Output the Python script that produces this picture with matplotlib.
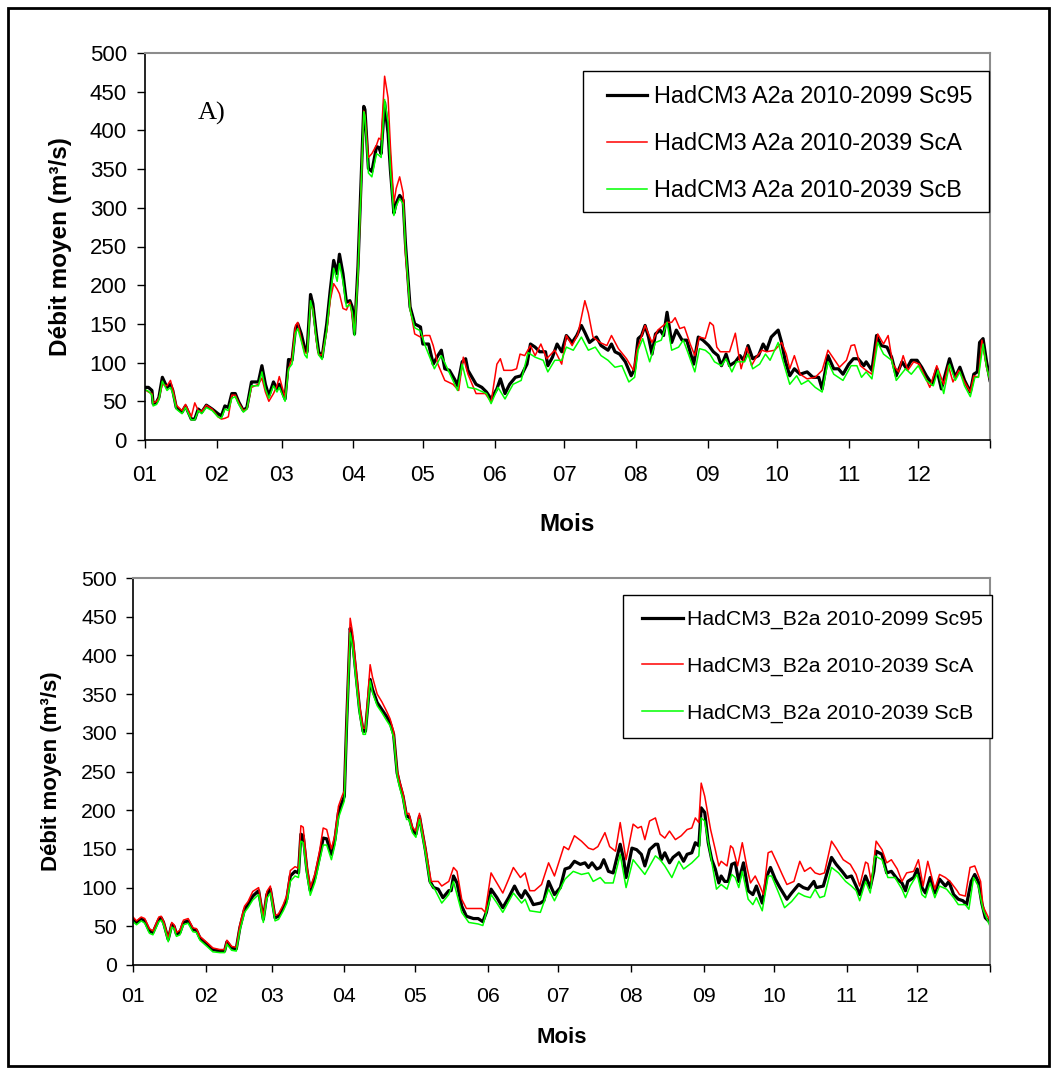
import matplotlib.pyplot as plt
from matplotlib.patches import Rectangle

plt.rcParams['font.family'] = ['Liberation Sans', 'DejaVu Sans']

# Axe des mois (jour de l'année du début de chaque mois)
mois = ['01', '02', '03', '04', '05', '06', '07', '08', '09', '10', '11', '12']
debut_mois = [0, 31, 59, 90, 120, 151, 181, 212, 243, 273, 304, 334, 365]

# ---- Graphique A) : HadCM3 A2a ----
jours_a2a_crue = [0, 1.5, 3, 3.5, 5, 6, 7.5, 9.5, 11, 12, 13.5, 16, 17.5, 20, 21.5, 23, 24.5, 26.5, 29, 31.5,
                  33, 34.5, 36, 37.5, 39, 40.5, 42.5, 44, 46, 49, 50.5, 52, 53.5, 55.5, 57, 58, 60.5, 62, 63.5, 65,
                  66, 67.5, 69, 70, 71.5, 72.5, 74, 75, 76.5, 78.5, 80, 81.5, 83, 84, 85.5, 87, 88.5, 89.5, 90.5, 92,
                  94.5, 95, 96.5, 98, 100, 101, 102, 103.5, 105, 106, 107.5, 108.5, 110, 111.5, 112.5, 114.5, 116.5, 119]

jours_a2a_sc95 = jours_a2a_crue + [
    120, 122.5, 124.5, 126.5, 128, 129.5, 131.5, 134, 135, 137, 138.5, 139.5, 142, 143, 145.5, 147.5, 149.5, 152,
    153.5, 155.5, 157.5, 160, 162.5, 165, 166.5, 168.5, 170.5, 173, 174, 176, 178, 180, 182, 184.5, 186.5, 188.5,
    190, 192, 195, 197, 200, 201.5, 203, 205, 207.5, 210, 211.5, 213, 214.5, 216, 217.5, 219, 220.5, 222.5, 224,
    225.5, 227.5, 229.5, 232, 234, 237, 239,
    241, 243.5, 245.5, 247.5, 249, 251, 252.5, 255, 257, 258.5, 260.5, 262.5, 265, 267, 268.5, 270.5, 273.5, 275,
    276.5, 278.5, 280.5, 283, 286, 288.5, 291, 292.5, 295, 297.5, 299.5, 301.5, 304, 306, 308, 310.5, 311.5, 314,
    316, 318, 320.5, 322.5, 324.5, 327, 329, 331, 333.5, 335.5, 337.5, 340, 342, 344, 346, 347.5, 350, 352, 354,
    356.5, 358, 359.5, 360.5, 362, 363.5, 365]
debit_a2a_sc95 = [
    68, 68, 64, 47, 49, 55, 81, 68, 72, 64, 42, 36, 44, 27, 27, 40, 36, 45, 40, 34,
    31, 44, 42, 60, 60, 49, 38, 42, 75, 75, 96, 72, 57, 75, 66, 72, 53, 104, 103, 144,
    150, 137, 118, 114, 188, 176, 137, 114, 107, 150, 193, 232, 215, 240, 215, 178, 180, 172, 137, 224,
    431, 427, 351, 347, 379, 378, 370, 436, 396, 349, 293, 306, 316, 310, 254, 172, 150, 146,
    124, 124, 98, 109, 116, 92, 90, 77, 70, 101, 105, 90, 77, 72, 68, 62, 53, 66, 79, 60,
    72, 81, 83, 98, 124, 120, 114, 114, 96, 107, 124, 114, 135, 126, 135, 148, 139, 126, 133, 122,
    116, 124, 114, 111, 101, 83, 92, 131, 135, 148, 133, 111, 137, 142, 135, 165, 126, 142, 129, 129,
    98, 133,
    129, 122, 114, 109, 96, 111, 96, 101, 109, 103, 122, 105, 109, 124, 116, 133, 142, 126, 103, 83,
    92, 85, 88, 81, 81, 66, 109, 92, 92, 85, 98, 105, 105, 96, 101, 90, 135, 122, 120, 107,
    83, 101, 92, 103, 103, 94, 83, 72, 92, 66, 88, 105, 81, 94, 77, 62, 85, 88, 126, 131,
    101, 77]

jours_a2a_sca = jours_a2a_crue + [
    121, 123, 124.5, 126.5, 129.5, 133, 135.5, 137.5, 139.5, 143, 147, 149.5, 152, 153.5, 155, 158.5, 160.5, 162,
    164, 166.5, 168.5, 171, 173.5, 177, 180, 182, 184.5, 187, 190, 191.5, 193.5, 196.5, 199.5, 201.5, 204.5, 208,
    211, 212.5, 216, 219, 221.5, 225.5, 227.5, 229, 231, 233, 235.5, 237.5, 239.5,
    242, 244, 245.5, 247, 248.5, 250.5, 252.5, 255, 256.5, 257.5, 260, 262, 264, 266.5, 268.5, 272, 275, 277,
    278.5, 280.5, 283, 286, 289.5, 292.5, 295, 297.5, 300, 303, 305, 306.5, 309, 311.5, 314, 316.5, 319, 321,
    323, 325.5, 327.5, 329.5, 332, 334.5, 339, 342, 345, 347, 349, 351.5, 354, 356.5, 358, 360, 361.5, 363.5, 365]
debit_a2a_sca = [
    65, 62, 60, 48, 50, 54, 72, 70, 77, 66, 45, 38, 46, 30, 48, 38, 37, 45, 40, 30,
    27, 28, 30, 58, 58, 48, 38, 40, 68, 72, 80, 62, 50, 60, 70, 82, 55, 92, 105, 148,
    152, 130, 113, 112, 176, 170, 128, 110, 110, 140, 180, 202, 195, 189, 170, 168, 178, 160, 140, 215,
    425, 420, 365, 370, 381, 390, 388, 470, 442, 380, 306, 325, 340, 319, 241, 170, 137, 133,
    135, 135, 122, 98, 77, 72, 64, 107, 85, 60, 60, 49, 98, 105, 90, 90, 92, 111, 109, 122,
    109, 124, 105, 116, 98, 135, 122, 137, 180, 164, 133, 126, 122, 135, 118, 105, 90, 116, 148, 126,
    142, 152, 152, 158, 144, 146, 124, 109, 133,
    131, 152, 148, 120, 114, 114, 114, 138, 109, 92, 120, 96, 107, 116, 114, 116, 126, 111, 92, 109,
    85, 79, 81, 90, 116, 105, 94, 103, 122, 123, 96, 90, 85, 137, 124, 135, 98, 88, 109, 90,
    101, 98, 68, 96, 72, 96, 75, 90, 75, 62, 83, 81, 129, 94, 77]

jours_a2a_scb = jours_a2a_crue + [
    121, 125, 128, 131, 135, 137, 139.5, 143, 147.5, 149.5, 152.5, 155.5, 159, 162.5, 165.5, 168.5, 172, 174, 177,
    180, 182, 185, 188.5, 191.5, 194.5, 197, 200, 203, 206, 209, 211.5, 213, 215, 218, 220.5, 223, 225.5, 227.5,
    230.5, 232.5, 234.5, 237.5, 239.5,
    242, 244, 246, 249, 251, 253.5, 255.5, 259, 260.5, 262.5, 265.5, 268, 270, 273.5, 275.5, 278.5, 281.5, 283.5,
    286.5, 289.5, 292.5, 295, 297.5, 301.5, 305, 307.5, 309.5, 311.5, 314, 316.5, 319, 322.5, 324.5, 328.5, 331,
    334, 337.5, 340.5, 342.5, 345, 347.5, 350, 352, 354, 356.5, 358.5, 360, 362, 363.5, 365]
debit_a2a_scb = [
    65, 63, 58, 44, 46, 52, 76, 64, 68, 60, 40, 34, 42, 26, 26, 38, 34, 42, 38, 30,
    28, 40, 38, 54, 56, 46, 36, 40, 70, 70, 88, 66, 54, 70, 62, 68, 50, 92, 98, 138,
    144, 128, 110, 106, 180, 168, 130, 110, 104, 142, 185, 222, 205, 228, 205, 172, 175, 165, 135, 215,
    424, 418, 345, 340, 370, 368, 365, 440, 410, 350, 290, 302, 312, 305, 250, 168, 145, 141,
    122, 92, 109, 90, 64, 98, 68, 66, 60, 47, 68, 53, 72, 77, 113, 107, 103, 88, 103, 103,
    120, 116, 133, 116, 120, 109, 103, 94, 96, 75, 81, 116, 131, 101, 126, 129, 152, 116, 120, 129,
    113, 88, 118,
    116, 111, 101, 96, 105, 88, 101, 101, 111, 92, 98, 111, 103, 126, 103, 72, 83, 72, 77, 68,
    62, 101, 85, 77, 96, 96, 81, 88, 79, 126, 111, 103, 77, 92, 85, 96, 77, 70, 90, 60,
    98, 77, 88, 70, 56, 81, 81, 124, 94, 77]

# ---- Graphique B) : HadCM3_B2a ----
jours_b2a_crue = [0, 1.5, 3.5, 5, 7, 8.5, 11, 12, 13, 15, 16.5, 17.5, 18.5, 20, 21.5, 23.5, 25.5, 27, 28.5, 31.5,
                  34, 37, 39, 40, 42, 44, 45.5, 47.5, 49, 51, 53.5, 55.5, 57, 58.5, 60.5, 62, 64, 65.5, 67, 69,
                  70.5, 71.5, 72.5, 74, 75.5, 77.5, 79.5, 81, 82.5, 84.5, 86, 87.5, 89, 90, 91, 92.5, 93.5, 95.5, 96.5, 98,
                  99, 101, 102, 104, 106, 108, 109.5, 111, 112.5, 113.5, 115, 116.5, 117.5, 119, 120.5, 122]

jours_b2a_sc95 = jours_b2a_crue + [
    124.5, 126.5, 128, 130, 132, 134.5, 135.5, 136.5, 138, 140, 142, 145, 147, 149, 150.5, 152.5, 155, 157.5, 160,
    162.5, 164, 165.5, 167, 169, 170.5, 173.5, 175, 177, 179.5, 182, 184, 186, 188, 190.5, 192.5, 194, 195.5,
    197.5, 199, 200.5, 202.5, 204.5, 207.5, 209, 210, 212.5, 214.5, 216.5, 218, 220, 222.5, 223.5, 225, 226.5,
    228.5, 230, 232.5, 234.5, 236, 238, 239.5, 241, 242,
    243.5, 245, 246.5, 248, 249.5, 250.5, 252, 253.5, 255, 256.5, 258, 260, 262, 264, 265.5, 268, 270, 271.5,
    273.5, 275.5, 278.5, 280.5, 283.5, 285.5, 287.5, 290, 291, 294, 297.5, 299.5, 302, 304, 306, 308, 309.5, 312,
    314, 315.5, 316.5, 319, 321, 323, 325.5, 327.5, 329, 330, 332.5, 334, 336, 337.5, 339.5, 341.5, 343.5, 346,
    347.5, 349.5, 351.5, 353.5, 355, 357, 358.5, 360, 361.5, 363, 365]
debit_b2a_sc95 = [
    59, 55, 60, 57, 44, 42, 59, 61, 55, 33, 52, 50, 40, 42, 55, 57, 46, 45, 35, 27,
    20, 18, 18, 30, 22, 21, 48, 72, 78, 89, 96, 59, 91, 98, 61, 63, 74, 85, 115, 121,
    119, 169, 167, 124, 96, 113, 141, 164, 163, 143, 162, 197, 210, 218, 313, 435, 420, 360, 330, 302,
    302, 369, 356, 339, 330, 321, 313, 298, 248, 235, 218, 192, 192, 175, 169, 192,
    149, 108, 100, 98, 87, 96, 96, 115, 106, 76, 63, 60, 60, 56, 68, 98, 87, 74, 87, 102,
    93, 87, 96, 87, 78, 80, 83, 108, 91, 100, 124, 126, 134, 130, 132, 126, 132, 124, 126, 136,
    121, 119, 156, 136, 113, 151, 149, 143, 128, 149, 156, 156, 136, 145, 132, 139, 145, 134, 143, 145,
    158, 154, 203,
    197, 158, 136, 124, 106, 115, 108, 108, 130, 132, 108, 132, 96, 91, 102, 80, 115, 126, 111, 100,
    85, 93, 104, 100, 98, 108, 100, 102, 139, 130, 121, 113, 115, 102, 91, 115, 100, 121, 147, 143,
    119, 121, 111, 106, 96, 108, 113, 124, 100, 93, 113, 93, 111, 102, 108, 91, 85, 83, 78, 108,
    117, 108, 80, 61, 55]

jours_b2a_sca = jours_b2a_crue + [
    124.5, 127, 130, 131.5, 134.5, 136.5, 138, 140, 142, 148.5, 150, 152.5, 154, 157.5, 160, 162, 165, 167, 169,
    171, 174, 177, 179.5, 183.5, 185.5, 188, 191, 194, 196, 198, 201, 203, 205.5, 207.5, 210, 213, 215, 216.5,
    218, 220, 222.5, 224.5, 226.5, 228.5, 231, 233.5, 236, 238, 239.5, 241, 242,
    243.5, 246, 248, 249.5, 250.5, 253, 254.5, 255.5, 257.5, 259.5, 261.5, 263, 265, 267, 268.5, 270.5, 272, 274,
    276.5, 278.5, 281.5, 284, 286, 288.5, 290.5, 292.5, 294.5, 297.5, 299.5, 302.5, 305.5, 308, 309.5, 312, 313,
    314.5, 316.5, 319, 321, 323, 325.5, 327.5, 329.5, 332.5, 334.5, 336.5, 338.5, 341.5, 343.5, 346, 348, 351,
    352, 354.5, 356.5, 358.5, 361, 362, 365]
debit_b2a_sca = [
    62, 57, 62, 60, 47, 44, 62, 63, 57, 35, 55, 52, 42, 45, 58, 60, 48, 47, 37, 29,
    22, 20, 20, 32, 24, 23, 52, 76, 82, 95, 100, 62, 95, 102, 64, 66, 78, 90, 122, 127,
    125, 180, 178, 130, 100, 118, 148, 177, 175, 150, 168, 205, 218, 225, 320, 448, 430, 368, 336, 306,
    306, 388, 372, 350, 340, 328, 318, 302, 252, 238, 222, 195, 196, 178, 173, 196,
    153, 108, 108, 102, 108, 126, 121, 85, 73, 73, 68, 119, 111, 93, 111, 126, 113, 119, 96, 96,
    104, 132, 115, 153, 149, 167, 160, 151, 149, 153, 171, 153, 147, 184, 136, 182, 177, 179, 162, 186,
    190, 169, 164, 173, 162, 167, 175, 177, 190, 184, 235,
    218, 175, 149, 128, 134, 128, 154, 151, 128, 158, 126, 106, 115, 102, 91, 145, 147, 134, 117, 104,
    108, 134, 121, 126, 119, 117, 119, 160, 151, 136, 130, 117, 102, 133, 131, 106, 160, 149, 132, 136,
    124, 108, 119, 121, 136, 102, 134, 98, 117, 113, 108, 96, 91, 89, 126, 128, 108, 76, 57]

jours_b2a_scb = jours_b2a_crue + [
    124.5, 126.5, 128.5, 131.5, 134.5, 136.5, 140, 143, 147, 149, 152.5, 155, 157.5, 162, 165.5, 167, 169, 173.5,
    177, 179.5, 184, 187.5, 191, 194, 196, 199, 201, 204.5, 207.5, 210, 213, 218, 222.5, 224.5, 226.5, 229.5,
    232.5, 234.5, 238, 241, 242,
    243.5, 244.5, 246.5, 248.5, 250.5, 253, 255, 256.5, 258, 259.5, 262, 264, 265.5, 268, 270.5, 272, 275, 277.5,
    280.5, 283.5, 286, 288.5, 290.5, 292.5, 294.5, 297.5, 300.5, 303.5, 306, 308, 309.5, 312, 314, 316, 319,
    321.5, 324.5, 327.5, 329, 331, 334, 336, 337.5, 339.5, 341.5, 343.5, 346.5, 349.5, 351.5, 354.5, 356, 358,
    360, 362, 365]
debit_b2a_scb = [
    56, 52, 57, 54, 41, 39, 56, 58, 52, 30, 49, 47, 37, 39, 52, 54, 43, 42, 32, 24,
    17, 16, 16, 27, 19, 18, 44, 68, 74, 84, 91, 55, 86, 93, 57, 59, 70, 80, 108, 115,
    113, 160, 158, 118, 90, 107, 135, 155, 155, 136, 155, 190, 203, 212, 305, 429, 412, 352, 324, 298,
    298, 367, 352, 335, 326, 316, 309, 294, 244, 230, 214, 188, 188, 171, 165, 188,
    145, 106, 98, 80, 91, 108, 68, 55, 53, 51, 91, 80, 68, 93, 80, 85, 70, 68, 98, 83,
    111, 121, 117, 119, 108, 113, 106, 106, 143, 100, 136, 117, 141, 136, 128, 113, 134, 124, 132, 141,
    190,
    186, 167, 133, 98, 104, 98, 117, 113, 100, 121, 85, 78, 87, 70, 115, 115, 93, 74, 82, 93,
    89, 87, 98, 87, 89, 126, 119, 108, 102, 96, 83, 108, 93, 141, 136, 113, 113, 98, 87, 102,
    117, 91, 87, 106, 87, 102, 98, 87, 78, 78, 72, 113, 102, 72, 50]

noms_a2a = ['HadCM3 A2a 2010-2099 Sc95', 'HadCM3 A2a 2010-2039 ScA', 'HadCM3 A2a 2010-2039 ScB']
noms_b2a = ['HadCM3_B2a 2010-2099 Sc95', 'HadCM3_B2a 2010-2039 ScA', 'HadCM3_B2a 2010-2039 ScB']
couleurs = ['#000000', '#ff0000', '#00ff00']
epaisseurs = [2.3, 1.1, 1.1]

W, H = 1057, 1074
fig = plt.figure(figsize=(W / 100, H / 100), dpi=100)


def panneau(rect_px, series, noms, taille, taille_titre, leg_px, boite_px, tick_len, pads, lab_xy):
    x0, y0, x1, y1 = rect_px
    ax = fig.add_axes([x0 / W, 1 - y1 / H, (x1 - x0) / W, (y1 - y0) / H])
    lignes = []
    for (j, d), nom, c, lw in zip(series, noms, couleurs, epaisseurs):
        l, = ax.plot(j, d, color=c, lw=lw, label=nom, zorder=2)
        lignes.append(l)
    ax.set_xlim(0, 365)
    ax.set_ylim(0, 500)
    ax.set_yticks(range(0, 501, 50))
    ax.set_xticks(debut_mois)
    ax.set_xticklabels(mois + [''])
    ax.tick_params(axis='both', direction='out', length=tick_len, width=1, labelsize=taille, colors='black')
    ax.tick_params(axis='y', pad=pads[0])
    ax.tick_params(axis='x', pad=pads[1])
    for s in ['top', 'right']:
        ax.spines[s].set_color('#8c8c8c')
        ax.spines[s].set_linewidth(1.5)
    for s in ['left', 'bottom']:
        ax.spines[s].set_color('black')
        ax.spines[s].set_linewidth(1.2)
    ax.set_xlabel('Mois', fontsize=taille_titre, fontweight='bold')
    ax.set_ylabel('Débit moyen (m³/s)', fontsize=taille_titre, fontweight='bold')
    ax.xaxis.set_label_coords(0.5, lab_xy[1])
    ax.yaxis.set_label_coords(lab_xy[0], 0.5)

    # cadre de la légende
    bx0, by0, bx1, by1 = boite_px
    ax.add_patch(Rectangle(((bx0 - x0) / (x1 - x0), (y1 - by1) / (y1 - y0)),
                           (bx1 - bx0) / (x1 - x0), (by1 - by0) / (y1 - y0),
                           transform=ax.transAxes, facecolor='white', edgecolor='black',
                           lw=1.0, zorder=4, clip_on=False))
    lx, ly, fs, hl, htp, lsp = leg_px
    leg = ax.legend(handles=lignes, loc='upper left',
                    bbox_to_anchor=((lx - x0) / (x1 - x0), (y1 - ly) / (y1 - y0)),
                    frameon=False, fontsize=fs, handlelength=hl, handletextpad=htp,
                    labelspacing=lsp, borderpad=0, borderaxespad=0)
    leg.set_zorder(5)
    return ax


ax1 = panneau((145, 53, 990, 440),
              [(jours_a2a_sc95, debit_a2a_sc95), (jours_a2a_sca, debit_a2a_sca), (jours_a2a_scb, debit_a2a_scb)],
              noms_a2a, 16, 17.5, (607, 85, 16.9, 1.72, 0.3, 1.02), (583, 71, 989, 212), 6, (7, 12),
              (-0.086, -0.189))
ax1.text((198 - 145) / 845, (440 - 113) / 387, 'A)', transform=ax1.transAxes, ha='left', va='center',
         fontsize=19, family=['Liberation Serif', 'DejaVu Serif'])

ax2 = panneau((133, 578, 990, 965),
              [(jours_b2a_sc95, debit_b2a_sc95), (jours_b2a_sca, debit_b2a_sca), (jours_b2a_scb, debit_b2a_scb)],
              noms_b2a, 15.3, 16, (642, 610, 15.3, 1.93, 0.2, 1.3), (623, 595, 992, 738), 4.7, (7, 11),
              (-0.083, -0.160))

# cadre extérieur
fig.patches.append(Rectangle((8 / W, 1 - 1066 / H), (1049 - 8) / W, (1066 - 8) / H,
                             transform=fig.transFigure, fill=False, ec='black', lw=2))

fig.savefig('out.png', dpi=100)
